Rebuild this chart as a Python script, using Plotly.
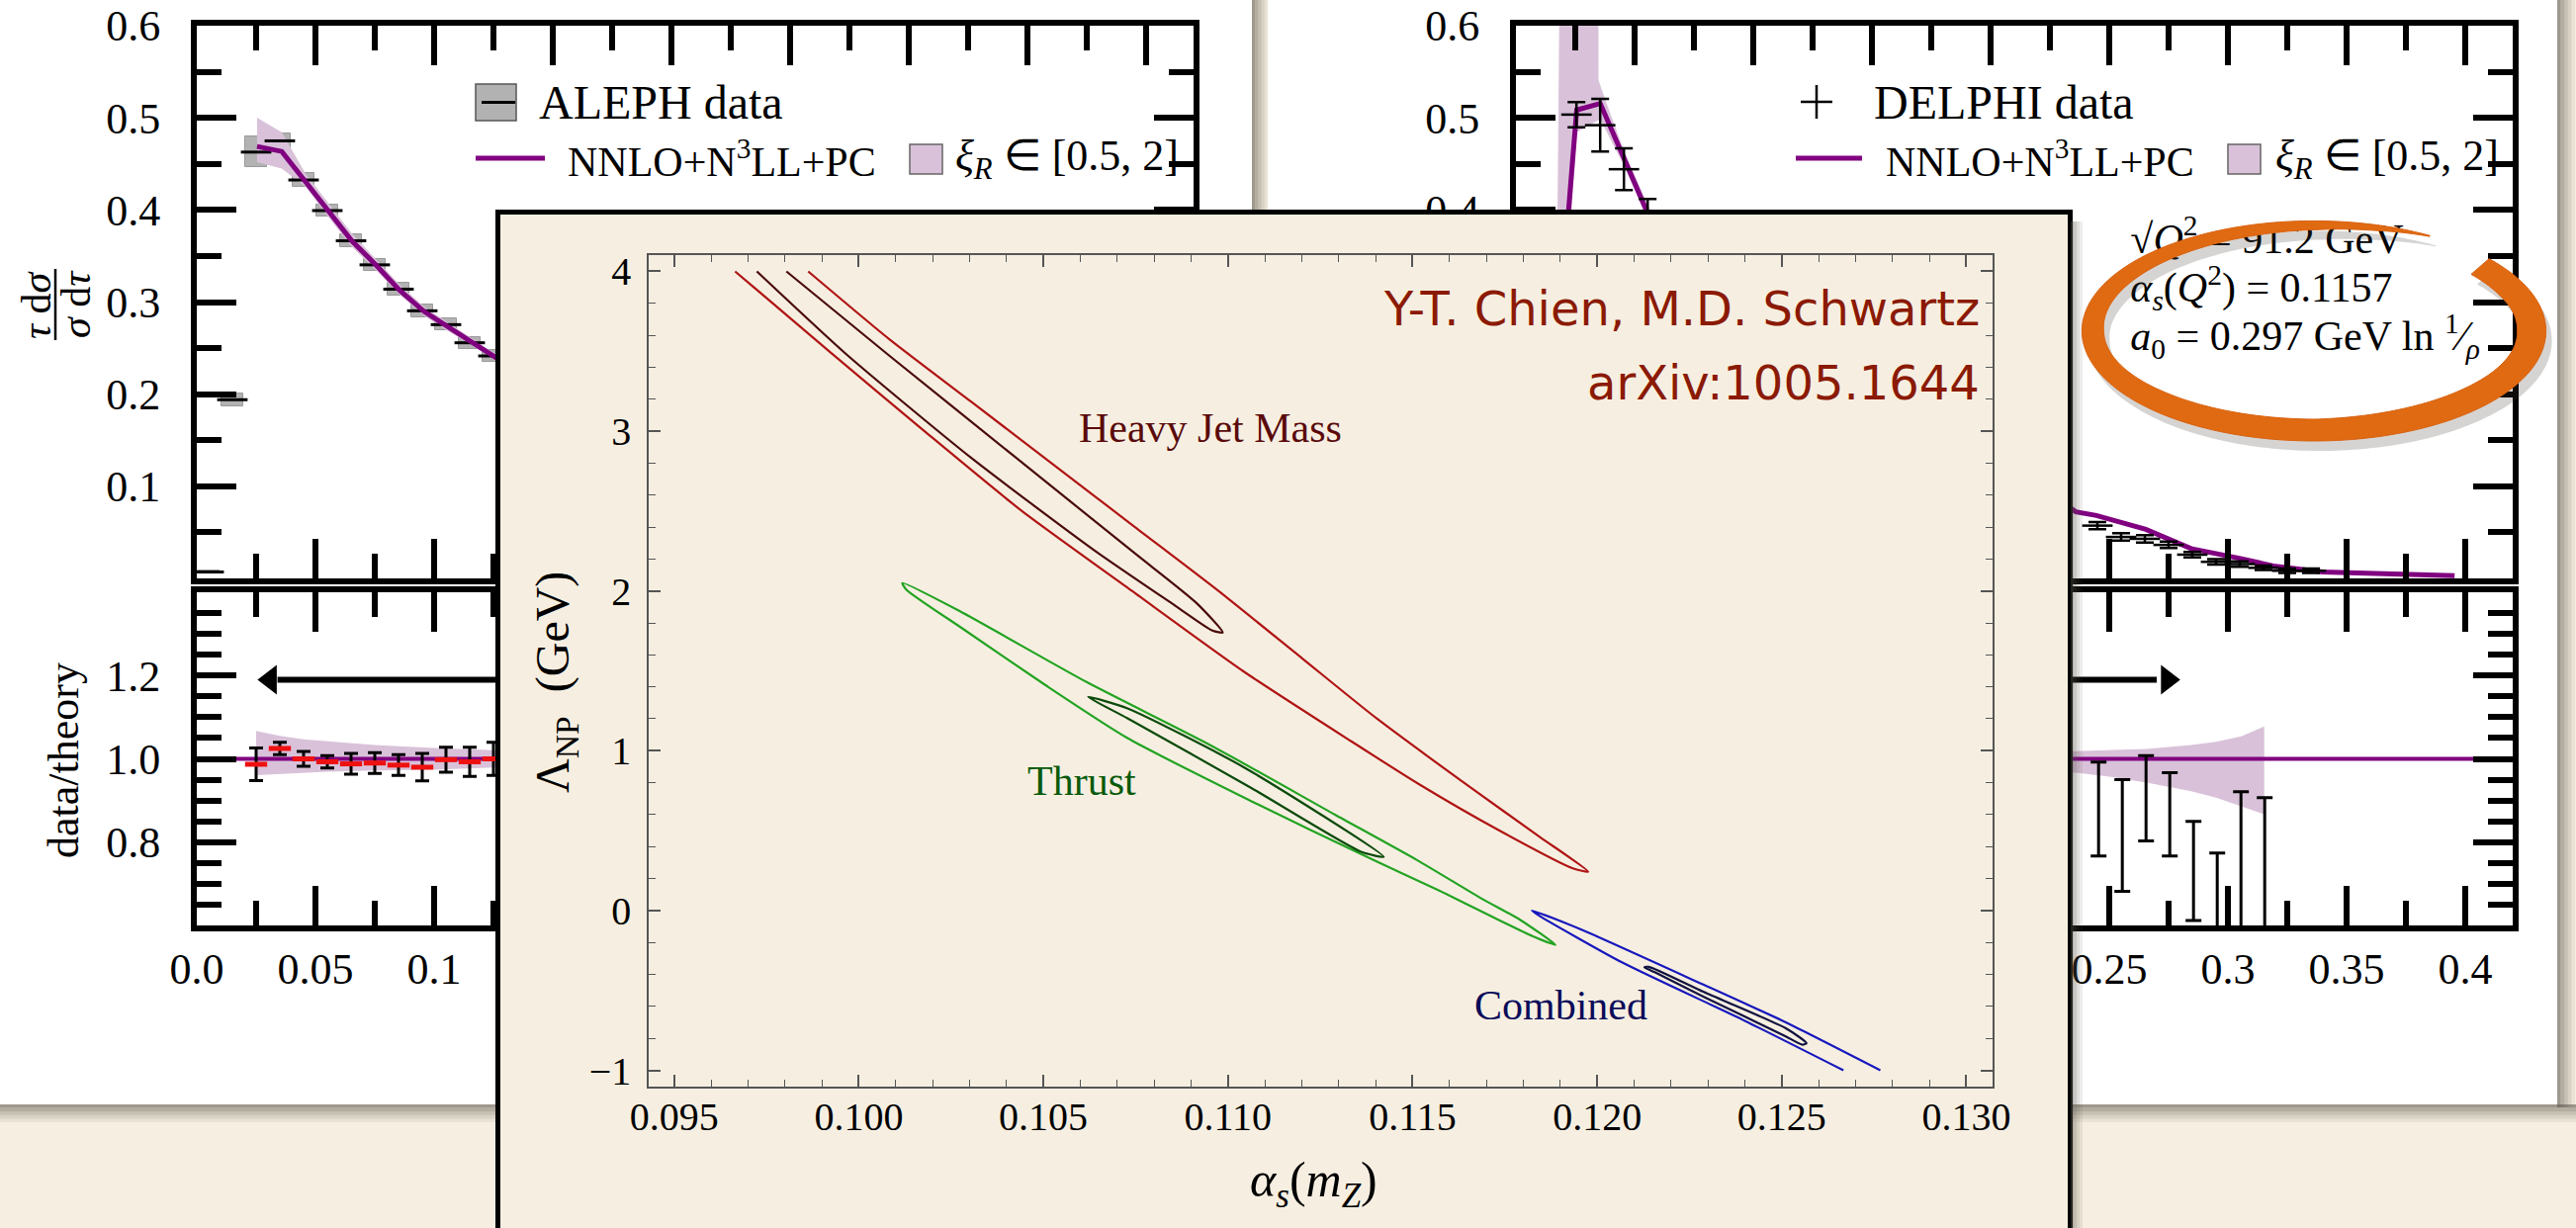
import numpy as np
import plotly.graph_objects as go

W, H = 2605, 1242
SERIF = "Liberation Serif"
HAND = "DejaVu Sans"
BEIGE = "#f6efe1"
PURPLE = "#800080"
THISTLE = "#d9c2d9"


def px(x):
    return x / W


def py(y):
    return 1 - y / H


# ---------------- ALEPH thrust distribution (left card) ----------------
aleph_tau = [0.005, 0.015, 0.025, 0.035, 0.045, 0.055, 0.065, 0.075, 0.085, 0.095, 0.105, 0.115, 0.125]
aleph_val = [0.007, 0.194, 0.4628, 0.475, 0.4325, 0.3993, 0.3665, 0.3404, 0.314, 0.2905, 0.2755, 0.2558, 0.2415]
aleph_err = [0.0015, 0.007, 0.0168, 0.0077, 0.0071, 0.0066, 0.0066, 0.0066, 0.0066, 0.0066, 0.0066, 0.0066, 0.0066]

thrust_th_tau = [0.0254, 0.0358, 0.0458, 0.0555, 0.0653, 0.0757, 0.0854, 0.0958, 0.1055, 0.1146, 0.1271, 0.14]
thrust_th_val = [0.4689, 0.4635, 0.4307, 0.3986, 0.3665, 0.3397, 0.313, 0.2897, 0.2737, 0.2594, 0.238, 0.222]
thrust_band_hi = [0.5003, 0.4843, 0.4396, 0.4075, 0.3745, 0.346, 0.319, 0.295, 0.2785, 0.2635, 0.2415, 0.225]
thrust_band_lo = [0.452, 0.445, 0.4254, 0.392, 0.360, 0.334, 0.308, 0.285, 0.269, 0.2555, 0.2345, 0.219]

aleph_ratio_tau = [0.025, 0.035, 0.045, 0.055, 0.065, 0.075, 0.085, 0.095, 0.105, 0.115, 0.125]
aleph_ratio_val = [0.987, 1.025, 1.0, 0.993, 0.988, 0.99, 0.985, 0.98, 0.998, 0.993, 1.0]
aleph_ratio_err = [0.039, 0.015, 0.018, 0.015, 0.025, 0.025, 0.025, 0.033, 0.03, 0.035, 0.04]

aleph_rband_tau = [0.025, 0.035, 0.045, 0.055, 0.075, 0.1, 0.125, 0.15]
aleph_rband_hi = [1.067, 1.055, 1.047, 1.042, 1.033, 1.026, 1.021, 1.018]
aleph_rband_lo = [0.961, 0.964, 0.967, 0.969, 0.972, 0.974, 0.979, 0.981]

# ---------------- DELPHI heavy jet mass distribution (right card) ----------------
delphi_rho = [0.0255, 0.0355, 0.0455, 0.0555, 0.245, 0.255, 0.265, 0.275, 0.285, 0.295, 0.305, 0.315, 0.325, 0.335]
delphi_val = [0.5035, 0.492, 0.4442, 0.391, 0.0573, 0.045, 0.043, 0.0364, 0.0258, 0.018, 0.0156, 0.0115, 0.0083, 0.0083]
delphi_err = [0.0137, 0.0286, 0.0227, 0.021, 0.004, 0.004, 0.004, 0.0035, 0.003, 0.003, 0.003, 0.0025, 0.0025, 0.0025]

hjm_th_rho = [0.0213, 0.0221, 0.0256, 0.0355, 0.0457, 0.0554, 0.2359, 0.2446, 0.2654, 0.2845, 0.3053, 0.3192, 0.340, 0.3955]
hjm_th_val = [0.30, 0.397, 0.5085, 0.5156, 0.455, 0.397, 0.0723, 0.0683, 0.0533, 0.0323, 0.0216, 0.0135, 0.007, 0.003]

hjm_band_up_rho = [0.0172, 0.0194, 0.0346, 0.0348, 0.0376, 0.0457, 0.0557, 0.0657]
hjm_band_up_val = [0.30, 0.95, 0.95, 0.541, 0.52, 0.463, 0.405, 0.35]
hjm_band_lo_rho = [0.0657, 0.0557, 0.0457, 0.0355, 0.0256, 0.0210]
hjm_band_lo_val = [0.335, 0.388, 0.447, 0.4985, 0.4843, 0.30]

delphi_ratio_rho = [0.2455, 0.2555, 0.2655, 0.2755, 0.2855, 0.2955, 0.3055, 0.3155]
delphi_ratio_hi = [0.992, 0.950, 1.008, 0.967, 0.850, 0.774, 0.921, 0.907]
delphi_ratio_lo = [0.767, 0.682, 0.803, 0.767, 0.612, 0.45, 0.47, 0.44]

hjm_rband_rho = [0.20, 0.236, 0.25, 0.2657, 0.2845, 0.295, 0.3056, 0.3153]
hjm_rband_hi = [1.012, 1.018, 1.021, 1.024, 1.033, 1.041, 1.054, 1.078]
hjm_rband_lo = [0.975, 0.967, 0.957, 0.943, 0.922, 0.907, 0.886, 0.867]

# ---------------- fit contours in the (alpha_s, Lambda_NP) plane ----------------
hjm_outer_as = [0.09665, 0.09920, 0.10178, 0.10442, 0.10740, 0.11040, 0.11334, 0.11518, 0.11734, 0.11934,
                0.11976, 0.11845, 0.11669, 0.11404, 0.11200, 0.1097, 0.10748, 0.10526, 0.10304, 0.10082,
                0.09863]
hjm_outer_L = [4.0, 3.5, 3.0, 2.5, 2.0, 1.5, 1.059, 0.79, 0.502, 0.264,
               0.243, 0.46, 0.75, 1.2, 1.58, 2.008, 2.40, 2.793, 3.185, 3.577,
               4.0]
hjm_inner_as = [0.09724, 0.0997, 0.10304, 0.10637, 0.10859, 0.10958, 0.10986, 0.10914, 0.10748, 0.10415, 0.10082, 0.09804]
hjm_inner_L = [4.0, 3.474, 2.834, 2.256, 1.905, 1.752, 1.740, 1.926, 2.235, 2.854, 3.474, 4.0]

thr_outer_as = [0.10118, 0.10273, 0.10617, 0.1095, 0.1129, 0.11512, 0.11692, 0.1179, 0.11887,
                0.11823, 0.11568, 0.11394, 0.11061, 0.10728, 0.10506, 0.10284, 0.10129, 0.10118]
thr_outer_L = [2.050, 1.874, 1.430, 1.038, 0.600, 0.316, 0.068, -0.056, -0.215,
               -0.159, 0.130, 0.316, 0.687, 1.079, 1.41, 1.76, 2.008, 2.050]
thr_inner_as = [0.10621, 0.10728, 0.11045, 0.11422, 0.11361, 0.11061, 0.10728, 0.10621]
thr_inner_L = [1.337, 1.265, 0.894, 0.336, 0.367, 0.770, 1.203, 1.337]

comb_outer_as = [0.12667, 0.124, 0.12067, 0.11845, 0.11823, 0.11956, 0.12289, 0.12511, 0.12767]
comb_outer_L = [-1.0, -0.69, -0.324, -0.035, 0.0, -0.118, -0.465, -0.70, -1.0]
comb_inner_as = [0.12128, 0.1214, 0.12289, 0.12511, 0.12567, 0.12556, 0.12511, 0.12289, 0.12156, 0.12128]
comb_inner_L = [-0.355, -0.352, -0.51, -0.737, -0.83, -0.84, -0.788, -0.54, -0.386, -0.355]

# tick definitions
tau_major = [0.0, 0.05, 0.1, 0.15, 0.2, 0.25, 0.3, 0.35, 0.4]
tau_major_text = ["0.0", "0.05", "0.1", "0.15", "0.2", "0.25", "0.3", "0.35", "0.4"]
tau_minor = [0.025, 0.075, 0.125, 0.175, 0.225, 0.275, 0.325, 0.375, 0.425]
dist_major = [0.1, 0.2, 0.3, 0.4, 0.5, 0.6]
dist_minor = [0.05, 0.15, 0.25, 0.35, 0.45, 0.55]
ratio_major = [0.8, 1.0, 1.2]
ratio_minor = [0.65, 0.7, 0.75, 0.85, 0.9, 0.95, 1.05, 1.1, 1.15, 1.25, 1.3, 1.35]
as_major = [0.095, 0.100, 0.105, 0.110, 0.115, 0.120, 0.125, 0.130]
lam_major = [-1, 0, 1, 2, 3, 4]

fig = go.Figure()


def xy(i):
    return ("x" if i == 1 else f"x{i}"), ("y" if i == 1 else f"y{i}")


# ---- left top: ALEPH thrust ----
xa, ya = xy(1)
fig.add_trace(go.Scatter(x=thrust_th_tau, y=thrust_band_lo, mode="lines", line=dict(width=0),
                         xaxis=xa, yaxis=ya, hoverinfo="skip"))
fig.add_trace(go.Scatter(x=thrust_th_tau, y=thrust_band_hi, mode="lines", line=dict(width=0),
                         fill="tonexty", fillcolor=THISTLE, xaxis=xa, yaxis=ya, hoverinfo="skip"))
fig.add_trace(go.Bar(x=aleph_tau, y=[2 * e for e in aleph_err], base=[v - e for v, e in zip(aleph_val, aleph_err)],
                     width=0.0094, marker=dict(color="#b2b2b2", line=dict(color="#9a9a9a", width=1)),
                     xaxis=xa, yaxis=ya, hoverinfo="skip"))
fig.add_trace(go.Scatter(x=aleph_tau, y=aleph_val, mode="markers",
                         marker=dict(symbol="line-ew", size=22, line=dict(color="black", width=3)),
                         xaxis=xa, yaxis=ya, hoverinfo="skip"))
fig.add_trace(go.Scatter(x=thrust_th_tau, y=thrust_th_val, mode="lines", line=dict(color=PURPLE, width=5),
                         xaxis=xa, yaxis=ya, hoverinfo="skip"))

# ---- left bottom: ALEPH data/theory ----
xa, ya = xy(2)
fig.add_trace(go.Scatter(x=aleph_rband_tau, y=aleph_rband_lo, mode="lines", line=dict(width=0),
                         xaxis=xa, yaxis=ya, hoverinfo="skip"))
fig.add_trace(go.Scatter(x=aleph_rband_tau, y=aleph_rband_hi, mode="lines", line=dict(width=0),
                         fill="tonexty", fillcolor=THISTLE, xaxis=xa, yaxis=ya, hoverinfo="skip"))
fig.add_trace(go.Scatter(x=[0, 0.42], y=[1, 1], mode="lines", line=dict(color=PURPLE, width=4),
                         xaxis=xa, yaxis=ya, hoverinfo="skip"))
fig.add_trace(go.Scatter(x=aleph_ratio_tau, y=aleph_ratio_val, mode="markers",
                         marker=dict(symbol="line-ew", size=16, line=dict(color="#ee1111", width=5)),
                         error_y=dict(type="data", array=aleph_ratio_err, color="black", thickness=3, width=7),
                         xaxis=xa, yaxis=ya, hoverinfo="skip"))
fig.add_trace(go.Scatter(x=[0.2, 0.034], y=[1.19, 1.19], mode="lines", line=dict(color="black", width=6),
                         xaxis=xa, yaxis=ya, hoverinfo="skip"))
fig.add_trace(go.Scatter(x=[0.031], y=[1.19], mode="markers",
                         marker=dict(symbol="triangle-left", size=26, color="black"),
                         xaxis=xa, yaxis=ya, hoverinfo="skip"))

# ---- right top: DELPHI heavy jet mass ----
xa, ya = xy(3)
fig.add_trace(go.Scatter(x=hjm_band_up_rho + hjm_band_lo_rho, y=hjm_band_up_val + hjm_band_lo_val,
                         mode="lines", line=dict(width=0), fill="toself", fillcolor=THISTLE,
                         xaxis=xa, yaxis=ya, hoverinfo="skip"))
fig.add_trace(go.Scatter(x=hjm_th_rho, y=hjm_th_val, mode="lines", line=dict(color=PURPLE, width=5),
                         xaxis=xa, yaxis=ya, hoverinfo="skip"))
fig.add_trace(go.Scatter(x=delphi_rho, y=delphi_val, mode="markers",
                         marker=dict(symbol="line-ew", size=22, line=dict(color="black", width=2.5)),
                         error_y=dict(type="data", array=delphi_err, color="black", thickness=2.5, width=9),
                         xaxis=xa, yaxis=ya, hoverinfo="skip"))
fig.add_trace(go.Scatter(
    x=[0.2589, 0.2589, 0.2589], y=[0.3647, 0.3116, 0.2587], mode="text",
    text=["√<i>Q</i><sup>2</sup> = 91.2 GeV",
          "<i>α<sub>s</sub></i>(<i>Q</i><sup>2</sup>) = 0.1157",
          "<i>a</i><sub>0</sub> = 0.297 GeV ln <sup>1</sup>⁄<sub><i>ρ</i></sub>"],
    textposition="middle right", textfont=dict(family=SERIF, size=42, color="black"),
    cliponaxis=False, xaxis=xa, yaxis=ya, hoverinfo="skip"))

# ---- right bottom: DELPHI data/theory ----
xa, ya = xy(4)
fig.add_trace(go.Scatter(x=hjm_rband_rho, y=hjm_rband_lo, mode="lines", line=dict(width=0),
                         xaxis=xa, yaxis=ya, hoverinfo="skip"))
fig.add_trace(go.Scatter(x=hjm_rband_rho, y=hjm_rband_hi, mode="lines", line=dict(width=0),
                         fill="tonexty", fillcolor=THISTLE, xaxis=xa, yaxis=ya, hoverinfo="skip"))
fig.add_trace(go.Scatter(x=[0, 0.42], y=[1, 1], mode="lines", line=dict(color=PURPLE, width=4),
                         xaxis=xa, yaxis=ya, hoverinfo="skip"))
dr_mid = [(a + b) / 2 for a, b in zip(delphi_ratio_hi, delphi_ratio_lo)]
dr_half = [(a - b) / 2 for a, b in zip(delphi_ratio_hi, delphi_ratio_lo)]
fig.add_trace(go.Scatter(x=delphi_ratio_rho, y=dr_mid, mode="markers", marker=dict(size=1, opacity=0),
                         error_y=dict(type="data", array=dr_half, color="black", thickness=3, width=8),
                         xaxis=xa, yaxis=ya, hoverinfo="skip"))
fig.add_trace(go.Scatter(x=[0.15, 0.270], y=[1.19, 1.19], mode="lines", line=dict(color="black", width=6),
                         xaxis=xa, yaxis=ya, hoverinfo="skip"))
fig.add_trace(go.Scatter(x=[0.2745], y=[1.19], mode="markers",
                         marker=dict(symbol="triangle-right", size=26, color="black"),
                         xaxis=xa, yaxis=ya, hoverinfo="skip"))

# ---- inset panel frame (empty subplot carrying the beige background) ----
xa, ya = xy(5)
fig.add_trace(go.Scatter(x=[0.5], y=[0.5], mode="markers", marker=dict(opacity=0),
                         xaxis=xa, yaxis=ya, hoverinfo="skip"))

# ---- inset: contours ----
xa, ya = xy(6)
contours = [
    (hjm_outer_as, hjm_outer_L, "#b01414"),
    (hjm_inner_as, hjm_inner_L, "#4a0a0a"),
    (thr_outer_as, thr_outer_L, "#22a322"),
    (thr_inner_as, thr_inner_L, "#0b4a0b"),
    (comb_outer_as, comb_outer_L, "#1717bd"),
    (comb_inner_as, comb_inner_L, "#111140"),
]
for cx_, cy_, col in contours:
    fig.add_trace(go.Scatter(x=cx_, y=cy_, mode="lines",
                             line=dict(color=col, width=2.2, shape="spline", smoothing=0.6),
                             xaxis=xa, yaxis=ya, hoverinfo="skip"))


# ---------------- axes ----------------
def card_x(dom, anchor, labels):
    return dict(domain=dom, anchor=anchor, range=[0, 0.42], showline=True, linewidth=6, linecolor="black",
                mirror="ticks", ticks="inside", ticklen=40, tickwidth=6, tickcolor="black",
                tickmode="array", tickvals=tau_major, ticktext=tau_major_text, showticklabels=labels,
                tickfont=dict(family=SERIF, size=44, color="black"), ticklabelstandoff=0,
                minor=dict(tickmode="array", tickvals=tau_minor, ticks="inside", ticklen=25, tickwidth=6,
                           tickcolor="black", showgrid=False),
                showgrid=False, zeroline=False, fixedrange=True, automargin=False)


def card_y(dom, anchor, rng, major, minor, fmt):
    return dict(domain=dom, anchor=anchor, range=rng, showline=True, linewidth=6, linecolor="black",
                mirror="ticks", ticks="inside", ticklen=40, tickwidth=6, tickcolor="black",
                tickmode="array", tickvals=major, ticktext=[fmt.format(v) for v in major],
                tickfont=dict(family=SERIF, size=44, color="black"), ticklabelstandoff=22,
                minor=dict(tickmode="array", tickvals=minor, ticks="inside", ticklen=25, tickwidth=6,
                           tickcolor="black", showgrid=False),
                showgrid=False, zeroline=False, fixedrange=True, automargin=False)


L_X = [px(199), px(1207)]
R_X = [px(1533), px(2541)]
TOP_Y = [py(585), py(26)]
BOT_Y = [py(936), py(599)]

layout_axes = dict(
    xaxis=card_x(L_X, "y", False),
    yaxis=card_y(TOP_Y, "x", [0, 0.6], dist_major, dist_minor, "{:.1f}"),
    xaxis2=card_x(L_X, "y2", True),
    yaxis2=card_y(BOT_Y, "x2", [0.6, 1.4], ratio_major, ratio_minor, "{:.1f}"),
    xaxis3=card_x(R_X, "y3", False),
    yaxis3=card_y(TOP_Y, "x3", [0, 0.6], dist_major, dist_minor, "{:.1f}"),
    xaxis4=card_x(R_X, "y4", True),
    yaxis4=card_y(BOT_Y, "x4", [0.6, 1.4], ratio_major, ratio_minor, "{:.1f}"),
    xaxis5=dict(domain=[px(506), px(2091)], anchor="y5", side="top", range=[0, 1], showline=True,
                linewidth=5, linecolor="black", showticklabels=False, ticks="", showgrid=False,
                zeroline=False, fixedrange=True, automargin=False),
    yaxis5=dict(domain=[0, py(217)], anchor="x5", range=[0, 1], showline=True, mirror=True,
                linewidth=5, linecolor="black", showticklabels=False, ticks="", showgrid=False,
                zeroline=False, fixedrange=True, automargin=False),
    xaxis6=dict(domain=[px(656), px(2015)], anchor="y6", range=[0.09431, 0.13071], showline=True,
                linewidth=1.5, linecolor="#555555", mirror="ticks", ticks="inside", ticklen=12,
                tickwidth=1.5, tickcolor="#555555", tickmode="array", tickvals=as_major,
                ticktext=[f"{v:.3f}" for v in as_major],
                tickfont=dict(family=SERIF, size=40, color="black"), ticklabelstandoff=-6,
                minor=dict(dtick=0.001, tick0=0.095, ticks="inside", ticklen=7, tickwidth=1.2,
                           tickcolor="#555555", showgrid=False),
                showgrid=False, zeroline=False, fixedrange=True, automargin=False),
    yaxis6=dict(domain=[py(1099), py(258)], anchor="x6", range=[-1.102, 4.102], showline=True,
                linewidth=1.5, linecolor="#555555", mirror="ticks", ticks="inside", ticklen=12,
                tickwidth=1.5, tickcolor="#555555", tickmode="array", tickvals=lam_major,
                tickfont=dict(family=SERIF, size=40, color="black"), ticklabelstandoff=8,
                minor=dict(dtick=0.2, tick0=0, ticks="inside", ticklen=7, tickwidth=1.2,
                           tickcolor="#555555", showgrid=False),
                showgrid=False, zeroline=False, fixedrange=True, automargin=False),
)

# ---------------- decorative shapes ----------------
shapes = []


def rect(x0, y0, x1, y1, fill, layer="below", line=None):
    shapes.append(dict(type="rect", xref="paper", yref="paper", x0=px(x0), x1=px(x1), y0=py(y1), y1=py(y0),
                       fillcolor=fill, line=line or dict(width=0), layer=layer))


def seg(x0, y0, x1, y1, color, width, layer="above"):
    shapes.append(dict(type="line", xref="paper", yref="paper", x0=px(x0), x1=px(x1), y0=py(y0), y1=py(y1),
                       line=dict(color=color, width=width), layer=layer))


# paper cards and their drop shadows
rect(0, 0, 1266, 1117, "white")
rect(1282, 0, 2586, 1117, "white")
for k, a in enumerate([0.55, 0.42, 0.3, 0.18, 0.08]):
    rect(1266 + 3.2 * k, 0, 1266 + 3.2 * (k + 1), 1120, f"rgba(85,80,72,{a})")
    rect(2586 + 3.6 * k, 0, 2586 + 3.6 * (k + 1), 1120, f"rgba(85,80,72,{a})")
    rect(0, 1117 + 3.6 * k, 1282, 1117 + 3.6 * (k + 1), f"rgba(85,80,72,{a})")
    rect(1282, 1117 + 3.6 * k, 2605, 1117 + 3.6 * (k + 1), f"rgba(85,80,72,{a})")

# shadow along the right edge of the inset panel
for k, a in enumerate([0.45, 0.32, 0.2, 0.1]):
    rect(2094 + 3 * k, 224, 2094 + 3 * (k + 1), 1242, f"rgba(85,80,72,{a})", layer="above")

# legend glyphs
rect(481, 85, 522, 122, "#b2b2b2", layer="above", line=dict(color="#555555", width=1.5))
seg(487, 103.5, 521, 103.5, "black", 3)
seg(481, 160, 551, 160, PURPLE, 5)
rect(920, 146, 953, 176, THISTLE, layer="above", line=dict(color="#666666", width=1.5))
seg(1821, 103, 1853, 103, "black", 2.5)
seg(1837, 86, 1837, 120, "black", 2.5)
seg(1816, 160, 1883, 160, PURPLE, 5)
rect(2253, 146, 2286, 176, THISTLE, layer="above", line=dict(color="#666666", width=1.5))

# fraction bar of the y label
seg(56, 272, 56, 344, "black", 2.5)

# hand-drawn orange ring around the fit parameters
theta = np.radians(np.linspace(60, 401, 240))
w_deg = [60, 75, 90, 135, 180, 225, 270, 315, 360, 385, 401]
w_px = [1, 6, 9, 15, 22, 23, 22, 26, 29, 27, 24]
wid = np.interp(np.degrees(theta), w_deg, w_px)
rcx, rcy, rrx, rry = 2340, 334.7, 234.6, 111.3


def ring_path(dx, dy):
    ox = rcx + dx + rrx * np.cos(theta)
    oy = rcy + dy - rry * np.sin(theta)
    ix = rcx + dx + (rrx - wid) * np.cos(theta)
    iy = rcy + dy - (rry - wid) * np.sin(theta)
    xs = np.concatenate([ox, ix[::-1]])
    ys = np.concatenate([oy, iy[::-1]])
    pts = [f"{px(a):.5f},{py(b):.5f}" for a, b in zip(xs, ys)]
    return "M " + " L ".join(pts) + " Z"


shapes.append(dict(type="path", xref="paper", yref="paper", path=ring_path(6, 10),
                   fillcolor="rgba(70,60,50,0.22)", line=dict(width=0), layer="above"))
shapes.append(dict(type="path", xref="paper", yref="paper", path=ring_path(0, 0),
                   fillcolor="#e06a12", line=dict(color="#d86210", width=1), layer="above"))

# ---------------- text ----------------
annotations = []


def text(x, y, s, size, color="black", family=SERIF, xanchor="left", angle=0):
    annotations.append(dict(x=px(x), y=py(y), xref="paper", yref="paper", text=s, showarrow=False,
                            xanchor=xanchor, yanchor="middle", textangle=angle,
                            font=dict(family=family, size=size, color=color)))


text(543, 103, "ALEPH data", 48)
text(572, 160, "NNLO+N<sup>3</sup>LL+PC", 42)
text(964, 160, "<i>ξ<sub>R</sub></i> ∈ [0.5, 2]", 44)
text(1893, 103, "DELPHI data", 48)
text(1905, 160, "NNLO+N<sup>3</sup>LL+PC", 42)
text(2299, 160, "<i>ξ<sub>R</sub></i> ∈ [0.5, 2]", 44)

text(37, 308, "<i>τ</i> d<i>σ</i>", 42, xanchor="center", angle=-90)
text(77, 308, "<i>σ</i> d<i>τ</i>", 42, xanchor="center", angle=-90)
text(64, 769, "data/theory", 44, xanchor="center", angle=-90)

text(562, 690, "Λ<sub>NP</sub>  (GeV)", 48, xanchor="center", angle=-90)
text(1328, 1197, "<i>α<sub>s</sub></i>(<i>m<sub>Z</sub></i>)", 50, xanchor="center")

text(2004, 312, "Y-T. Chien, M.D. Schwartz", 48, color="#8b1a05", family=HAND, xanchor="right")
text(2004, 387, "arXiv:1005.1644", 48, color="#8b1a05", family=HAND, xanchor="right")
text(1224, 433, "Heavy Jet Mass", 42, color="#5a0a0a", xanchor="center")
text(1094, 790, "Thrust", 42, color="#0b5a0b", xanchor="center")
text(1578, 1017, "Combined", 42, color="#0b0b5a", xanchor="center")

fig.update_layout(
    width=W, height=H, margin=dict(l=0, r=0, t=0, b=0, pad=0, autoexpand=False),
    paper_bgcolor=BEIGE, plot_bgcolor=BEIGE, showlegend=False,
    shapes=shapes, annotations=annotations, bargap=0,
    **layout_axes,
)

fig.write_html("out.html")
